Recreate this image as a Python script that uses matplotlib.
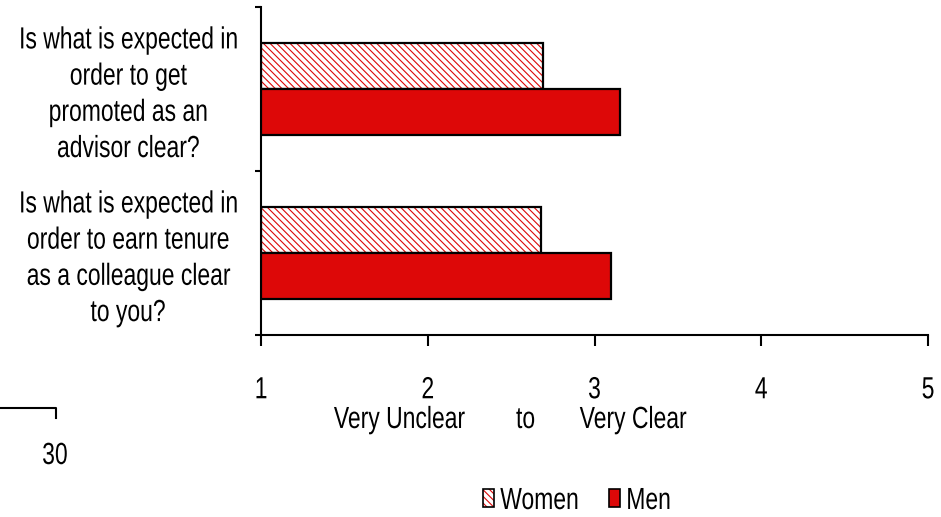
import matplotlib
matplotlib.use("Agg")
import matplotlib.pyplot as plt
from matplotlib.lines import Line2D
from matplotlib.patches import Patch
from matplotlib.patheffects import AbstractPathEffect
from matplotlib.transforms import Affine2D
import numpy as np

# Survey questions (top to bottom) and mean ratings on a 1-5 scale
questions = [
    "Is what is expected in\norder to get\npromoted as an\nadvisor clear?",
    "Is what is expected in\norder to earn tenure\nas a colleague clear\nto you?",
]
women = [2.69, 2.68]
men = [3.15, 3.10]
x_ticks = [1, 2, 3, 4, 5]
x_label = "Very Unclear        to       Very Clear"
series_names = ["Women", "Men"]

RED = "#DD0808"
HATCH = "\\\\\\\\\\"
FS = 22


class Narrow(AbstractPathEffect):
    """Render text glyphs horizontally condensed (Arial Narrow look)."""

    def __init__(self, sx=0.75, anchor="center"):
        super().__init__()
        self.sx = sx
        self.anchor = anchor

    def draw_path(self, renderer, gc, tpath, affine, rgbFace=None):
        ext = tpath.get_extents()
        cx = ext.x0 if self.anchor == "left" else 0.5 * (ext.x0 + ext.x1)
        squeeze = Affine2D().translate(-cx, 0).scale(self.sx, 1).translate(cx, 0)
        renderer.draw_path(gc, tpath, squeeze + affine, rgbFace)


NARROW = [Narrow(0.75)]
NARROW_LEFT = [Narrow(0.75, "left")]

plt.rcParams["font.family"] = ["Liberation Sans", "DejaVu Sans"]
plt.rcParams["hatch.linewidth"] = 0.8

W, H = 941, 517
fig = plt.figure(figsize=(W / 100, H / 100), dpi=100)
ax = fig.add_axes([261 / W, (517 - 335) / H, (928 - 261) / W, (335 - 7) / H])

n = len(questions)
centers = np.arange(n)[::-1] + 0.5  # first question on top
bh = 0.28
base = 1

women_w = np.array(women) - base
men_w = np.array(men) - base

# Women: red hatching on white with a black outline
ax.barh(centers + bh / 2, women_w, left=base, height=bh, color="white",
        edgecolor=RED, linewidth=0, hatch=HATCH, zorder=2)
ax.barh(centers + bh / 2, women_w, left=base, height=bh, fill=False,
        edgecolor="black", linewidth=1.6, zorder=3)
# Men: solid red
ax.barh(centers - bh / 2, men_w, left=base, height=bh, color=RED,
        edgecolor="black", linewidth=1.6, zorder=3)

ax.set_xlim(1, 5)
ax.set_ylim(0, n)
ax.set_xticks(x_ticks)
ax.set_xticklabels([str(t) for t in x_ticks])
ax.set_yticks(np.arange(n + 1))
ax.set_yticklabels([])

for s in ["top", "right"]:
    ax.spines[s].set_visible(False)
for s in ["left", "bottom"]:
    ax.spines[s].set_linewidth(1.5)

ax.tick_params(axis="x", direction="out", length=8, width=1.5, pad=21,
               labelsize=FS)
ax.tick_params(axis="y", direction="out", length=4.5, width=1.5)
for t in ax.get_xticklabels():
    t.set_path_effects(NARROW)

for c, q in zip(centers, questions):
    ax.text(-0.1994, c - 0.035, q, transform=ax.get_yaxis_transform(),
            ha="center", va="center", multialignment="center", fontsize=FS,
            linespacing=1.27, path_effects=NARROW)

fig.text(510 / W, 1 - 428 / H, x_label, ha="center", va="baseline",
         fontsize=FS, path_effects=NARROW)

# Legend
h_women = (Patch(facecolor="white", edgecolor=RED, linewidth=0, hatch=HATCH),
           Patch(fill=False, edgecolor="black", linewidth=1.2))
h_men = Patch(facecolor=RED, edgecolor="black", linewidth=1.2)
leg = fig.legend([h_women, h_men], series_names, loc="center",
                 bbox_to_anchor=(584 / W, 1 - 501 / H), ncol=2, frameon=False,
                 fontsize=FS, handlelength=0.36, handleheight=0.55,
                 handletextpad=0.2, columnspacing=0.13)
for t in leg.get_texts():
    t.set_path_effects(NARROW_LEFT)

# Small scale marker at the lower left
fig.add_artist(Line2D([0, 56 / W, 56 / W], [1 - 408 / H, 1 - 408 / H, 1 - 418 / H],
                      color="black", linewidth=1.5))
fig.text(55 / W, 1 - 456 / H, "30", ha="center", va="center", fontsize=FS,
         path_effects=NARROW)

fig.savefig("out.png", dpi=100)
